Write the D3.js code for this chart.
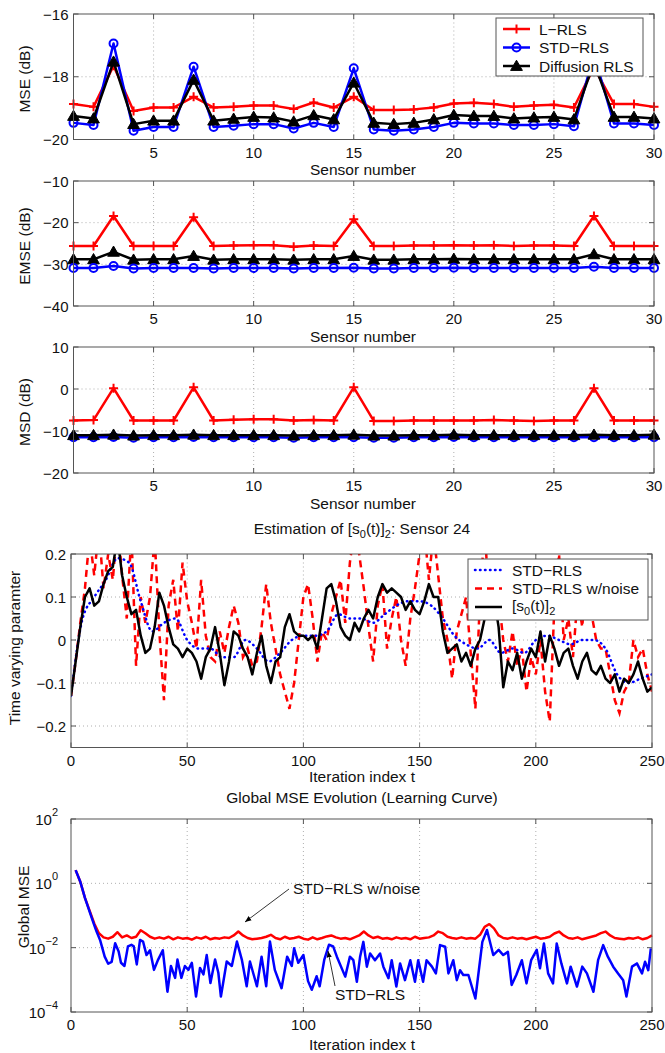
<!DOCTYPE html>
<html>
<head>
<meta charset="utf-8">
<script src="https://cdn.jsdelivr.net/npm/d3@7"></script>
<style>
body{margin:0;background:#fff}
text{font-family:"Liberation Sans",Arial,sans-serif;fill:#111}
</style>
</head>
<body>
<svg id="fig" width="665" height="1053"></svg>
<script>
// ---- data ----
let sensors = [1,2,3,4,5,6,7,8,9,10,11,12,13,14,15,16,17,18,19,20,21,22,23,24,25,26,27,28,29,30];

let mseLRLS = [-18.87,-18.96,-17.65,-19.09,-18.98,-18.98,-18.64,-18.98,-18.96,-18.92,-18.92,-19.03,-18.82,-18.98,-18.64,-19.06,-19.06,-19.04,-18.98,-18.85,-18.83,-18.87,-18.96,-18.92,-18.89,-18.98,-17.7,-18.87,-18.87,-18.96];
let mseSTD  = [-19.47,-19.54,-16.94,-19.72,-19.6,-19.6,-17.68,-19.6,-19.56,-19.51,-19.51,-19.65,-19.47,-19.6,-17.73,-19.68,-19.72,-19.68,-19.6,-19.47,-19.49,-19.49,-19.54,-19.54,-19.51,-19.58,-17.3,-19.49,-19.49,-19.54];
let mseDiff = [-19.25,-19.33,-17.52,-19.51,-19.4,-19.4,-18.1,-19.4,-19.34,-19.28,-19.3,-19.43,-19.23,-19.36,-18.19,-19.47,-19.51,-19.47,-19.36,-19.22,-19.25,-19.25,-19.33,-19.3,-19.28,-19.36,-17.55,-19.28,-19.28,-19.33];

let emseLRLS = [-25.6,-25.6,-18.4,-25.6,-25.6,-25.6,-18.7,-25.6,-25.5,-25.4,-25.4,-25.8,-25.5,-25.6,-19.2,-25.6,-25.6,-25.5,-25.5,-25.4,-25.5,-25.4,-25.6,-25.5,-25.5,-25.6,-18.4,-25.6,-25.6,-25.6];
let emseSTD  = [-30.9,-30.9,-30.4,-31.0,-30.9,-30.9,-30.9,-31.0,-30.9,-30.9,-30.9,-31.0,-30.9,-30.9,-30.8,-31.0,-31.0,-30.9,-30.9,-30.8,-30.9,-30.9,-30.9,-30.9,-30.9,-30.9,-30.6,-30.9,-30.9,-30.9];
let emseDiff = [-28.8,-28.8,-27.0,-28.9,-28.8,-28.8,-28.0,-28.9,-28.8,-28.8,-28.8,-28.9,-28.8,-28.8,-28.0,-28.9,-28.9,-28.8,-28.8,-28.7,-28.8,-28.8,-28.8,-28.8,-28.8,-28.8,-27.6,-28.8,-28.8,-28.8];

let msdLRLS = [-7.5,-7.4,0.2,-7.5,-7.5,-7.5,0.4,-7.5,-7.3,-7.2,-7.2,-7.5,-7.4,-7.5,0.4,-7.6,-7.6,-7.5,-7.5,-7.5,-7.5,-7.4,-7.5,-7.6,-7.5,-7.5,0.2,-7.5,-7.5,-7.5];
let msdSTD  = [-11.5,-11.5,-11.4,-11.6,-11.5,-11.5,-11.4,-11.5,-11.5,-11.5,-11.5,-11.6,-11.5,-11.5,-11.5,-11.6,-11.6,-11.5,-11.5,-11.4,-11.5,-11.5,-11.5,-11.5,-11.5,-11.5,-11.5,-11.5,-11.5,-11.5];
let msdDiff = [-11.0,-11.0,-10.9,-11.1,-11.0,-11.0,-10.9,-11.0,-11.0,-11.0,-11.0,-11.1,-11.0,-11.0,-10.9,-11.1,-11.1,-11.0,-11.0,-10.9,-11.0,-11.0,-11.0,-11.0,-11.0,-11.0,-10.9,-11.0,-11.0,-10.9];

// panel 4: samples every 2 iterations (t = 0,2,...,250)
let trueParam = [-0.13,-0.05,0.03,0.10,0.12,0.08,0.09,0.13,0.16,0.17,0.24,0.15,0.10,0.06,0.07,0.01,-0.03,-0.02,0.03,0.11,0.08,0.03,-0.01,-0.02,-0.04,-0.02,-0.03,-0.05,-0.09,-0.04,-0.02,0.03,-0.03,-0.105,-0.05,0.02,0.01,-0.02,-0.04,-0.08,-0.03,0.01,-0.06,-0.10,-0.05,-0.04,0.03,0.06,0.02,0.01,0.01,0.0,0.01,-0.02,0.05,0.12,0.13,0.09,0.03,0.01,0.0,0.04,0.02,0.05,0.07,0.05,0.10,0.13,0.11,0.12,0.11,0.10,0.07,0.09,0.07,0.06,0.09,0.13,0.10,0.10,0.02,-0.03,-0.02,-0.01,-0.05,-0.03,-0.06,-0.02,0.0,0.05,0.12,0.10,0.03,-0.11,-0.05,-0.07,-0.03,-0.09,-0.05,-0.02,-0.04,0.02,-0.05,0.01,-0.02,-0.06,-0.03,-0.02,-0.06,-0.09,-0.05,-0.03,-0.07,-0.08,-0.06,-0.09,-0.10,-0.08,-0.12,-0.09,-0.10,-0.08,-0.05,-0.09,-0.12,-0.11];
let noisyEst = [-0.13,-0.05,0.04,0.12,0.24,0.15,0.26,0.12,0.20,0.14,0.27,0.15,0.05,0.25,-0.06,0.10,0.04,0.10,0.24,0.02,-0.14,0.08,0.14,0.02,0.18,0.09,0.04,-0.02,0.14,0.01,-0.04,-0.05,0.02,-0.03,0.03,0.08,0.04,-0.04,-0.02,-0.06,-0.05,0.03,0.13,0.04,-0.02,-0.08,-0.12,-0.16,-0.10,0.0,0.10,0.13,0.05,-0.05,0.02,0.0,0.06,0.10,0.14,0.04,0.18,0.26,0.20,0.12,0.03,-0.05,0.08,0.13,-0.02,0.05,0.10,0.0,-0.06,0.05,0.12,0.20,0.26,0.14,0.25,0.15,0.05,0.0,-0.09,0.02,0.06,0.10,-0.03,-0.16,0.10,0.26,0.08,0.12,0.10,0.0,-0.05,0.02,-0.06,-0.02,-0.12,-0.04,-0.08,0.0,-0.12,-0.19,0.08,0.20,0.0,0.05,-0.04,0.10,0.03,0.18,0.06,0.0,-0.02,-0.02,-0.08,-0.14,-0.17,-0.12,-0.10,0.0,-0.04,-0.02,-0.08,-0.12];
// STD-RLS estimate every 5 iterations (t = 0,5,...,250)
let stdEst = [-0.13,0.05,0.10,0.14,0.19,0.18,0.09,0.02,0.04,0.05,0.0,-0.02,-0.02,-0.04,-0.04,0.0,-0.02,-0.05,-0.03,0.0,0.01,0.01,0.02,0.06,0.05,0.05,0.04,0.06,0.08,0.09,0.09,0.08,0.05,0.01,-0.01,-0.02,0.0,-0.03,-0.02,-0.03,0.0,0.01,0.0,-0.01,0.0,0.0,-0.02,-0.08,-0.10,-0.09,-0.08];

// panel 5: [iteration, log10(global MSE)]
let mseNoise = [[2,0.41],[4,0.05],[6,-0.45],[8,-0.85],[10,-1.25],[12,-1.55],[14,-1.68],[16,-1.72],[18,-1.66],[20,-1.52],[22,-1.68],[24,-1.62],[26,-1.70],[28,-1.66],[30,-1.46],[32,-1.55],[34,-1.66],[36,-1.72],[38,-1.68],[40,-1.72],[42,-1.66],[44,-1.74],[46,-1.68],[48,-1.72],[50,-1.70],[52,-1.75],[54,-1.68],[56,-1.72],[58,-1.66],[60,-1.74],[62,-1.70],[64,-1.72],[66,-1.68],[68,-1.70],[70,-1.62],[72,-1.50],[74,-1.62],[76,-1.70],[78,-1.74],[80,-1.72],[82,-1.70],[84,-1.66],[86,-1.60],[88,-1.70],[90,-1.74],[92,-1.66],[94,-1.72],[96,-1.70],[98,-1.66],[100,-1.72],[102,-1.75],[104,-1.68],[106,-1.74],[108,-1.70],[110,-1.65],[112,-1.62],[114,-1.68],[116,-1.72],[118,-1.70],[120,-1.74],[122,-1.68],[124,-1.62],[126,-1.50],[128,-1.62],[130,-1.70],[132,-1.66],[134,-1.72],[136,-1.70],[138,-1.74],[140,-1.68],[142,-1.72],[144,-1.70],[146,-1.74],[148,-1.66],[150,-1.72],[152,-1.70],[154,-1.68],[156,-1.62],[158,-1.50],[160,-1.55],[162,-1.66],[164,-1.70],[166,-1.72],[168,-1.68],[170,-1.72],[172,-1.70],[174,-1.72],[176,-1.60],[178,-1.35],[180,-1.27],[182,-1.40],[184,-1.62],[186,-1.70],[188,-1.72],[190,-1.68],[192,-1.72],[194,-1.70],[196,-1.74],[198,-1.70],[200,-1.66],[202,-1.72],[204,-1.70],[206,-1.66],[208,-1.56],[210,-1.50],[212,-1.62],[214,-1.70],[216,-1.72],[218,-1.68],[220,-1.74],[222,-1.70],[224,-1.66],[226,-1.62],[228,-1.55],[230,-1.50],[232,-1.62],[234,-1.70],[236,-1.72],[238,-1.74],[240,-1.70],[242,-1.72],[244,-1.68],[246,-1.74],[248,-1.70],[250,-1.62]];
let mseClean = [[2,0.41],[4,0.05],[6,-0.45],[8,-0.88],[10,-1.3],[11,-1.5],[12.5,-1.76],[14.5,-2.28],[16,-2.5],[17.5,-2.44],[19,-1.86],[20.5,-2.12],[21.5,-2.47],[23,-2.57],[24.5,-1.96],[26,-1.91],[27,-1.96],[28.3,-2.52],[29.7,-1.76],[31,-1.81],[32.5,-2.23],[34,-2.08],[35.7,-2.69],[37.5,-2.37],[39.5,-2.08],[41.5,-3.37],[43,-2.57],[44.8,-2.94],[45.8,-2.37],[47.5,-2.94],[49,-2.57],[50.5,-2.69],[52,-2.47],[53.8,-3.52],[55.5,-2.63],[57,-2.83],[58.4,-2.23],[60,-3.1],[62,-2.37],[63.4,-2.78],[64.5,-3.52],[67,-2.43],[69.2,-2.57],[71.4,-1.81],[73.5,-2.37],[75.6,-3.2],[77,-2.43],[80,-3.2],[82,-2.28],[84,-3.2],[85.6,-1.81],[87.7,-2.69],[90.6,-3.26],[93,-2.28],[95,-2.57],[96,-2.02],[97.8,-2.47],[100,-2.23],[102,-3.04],[103.6,-3.31],[105.7,-2.89],[107,-3.2],[109,-2.37],[111,-1.91],[112.8,-1.96],[114.4,-2.28],[118,-2.9],[120,-2.28],[121.5,-2.39],[123,-3.06],[124.4,-2.28],[125.8,-1.82],[127.3,-2.59],[128.7,-2.18],[130.8,-2.39],[133,-2.18],[134.4,-2.59],[136.6,-2.95],[138,-2.39],[140,-3.21],[141.6,-2.49],[143.7,-3.01],[146,-2.39],[148,-3.06],[149.4,-2.39],[151.5,-3.06],[153,-2.39],[155.3,-2.59],[157,-2.8],[158.8,-1.92],[161,-1.97],[162.4,-2.8],[164.5,-2.39],[166,-3.01],[167.4,-2.7],[168.8,-2.85],[171,-2.85],[174,-3.58],[177,-1.82],[179,-1.45],[181.7,-2.23],[184,-2.07],[186,-2.23],[188,-2.13],[189.6,-3.16],[191.6,-2.85],[194,-2.39],[196,-3.11],[198,-2.39],[200.4,-2.07],[201.8,-2.64],[203.5,-1.87],[205.3,-2.8],[207.4,-3.11],[209,-1.87],[211,-2.49],[213.4,-3.11],[215,-2.59],[217.7,-3.21],[220,-2.59],[222,-2.8],[224.8,-3.37],[226.8,-2.39],[229,-1.92],[231,-2.28],[233.3,-2.59],[235.4,-2.8],[237.6,-3.01],[239,-3.52],[241.4,-2.59],[243.5,-2.49],[245.7,-2.8],[247,-2.44],[248.4,-2.7],[249.5,-2.02]];

let sensorTicks = [5,10,15,20,25,30];
let iterTicks = [0,50,100,150,200,250];

// ---- drawing ----
let svg = d3.select("#fig");
let RED = "#ff0000", BLUE = "#0000ff", BLACK = "#000000";
let DOTS = "0.5,4.5";
let FS = "15.5px", TFS = "15px";

function fmtNum(d){
    return String(d).replace("-", "\u2212");
}

function drawFrame(g, x, y, xticks, yticks, yfmt){
    let [x0, x1] = x.range();
    let [y0, y1] = y.range(); // y0 bottom, y1 top
    // grid
    g.append("g").selectAll("line").data(xticks.filter(t => x(t) > x0 + 1 && x(t) < x1 - 1)).enter().append("line")
        .attr("x1", d => x(d)).attr("x2", d => x(d)).attr("y1", y0).attr("y2", y1)
        .attr("stroke", "#9a9a9a").attr("stroke-width", 0.8).attr("stroke-dasharray", "1,3");
    g.append("g").selectAll("line").data(yticks.filter(t => y(t) < y0 - 1 && y(t) > y1 + 1)).enter().append("line")
        .attr("y1", d => y(d)).attr("y2", d => y(d)).attr("x1", x0).attr("x2", x1)
        .attr("stroke", "#9a9a9a").attr("stroke-width", 0.8).attr("stroke-dasharray", "1,3");
    // inward ticks on all sides
    let tk = g.append("g").attr("stroke", "#555").attr("stroke-width", 1);
    xticks.forEach(t => {
        tk.append("line").attr("x1", x(t)).attr("x2", x(t)).attr("y1", y0).attr("y2", y0 - 5);
        tk.append("line").attr("x1", x(t)).attr("x2", x(t)).attr("y1", y1).attr("y2", y1 + 5);
    });
    yticks.forEach(t => {
        tk.append("line").attr("y1", y(t)).attr("y2", y(t)).attr("x1", x0).attr("x2", x0 + 5);
        tk.append("line").attr("y1", y(t)).attr("y2", y(t)).attr("x1", x1).attr("x2", x1 - 5);
    });
    // labels
    g.append("g").selectAll("text").data(xticks).enter().append("text")
        .attr("x", d => x(d)).attr("y", y0 + 18).attr("text-anchor", "middle")
        .style("font-size", TFS).text(d => fmtNum(d));
    if (yfmt){
        yticks.forEach(t => yfmt(g, t, x0, y(t)));
    } else {
        g.append("g").selectAll("text").data(yticks).enter().append("text")
            .attr("x", x0 - 5).attr("y", d => y(d) + 5.5).attr("text-anchor", "end")
            .style("font-size", TFS).text(d => fmtNum(d));
    }
}

function drawBox(g, x, y){
    let [x0, x1] = x.range();
    let [y0, y1] = y.range();
    g.append("rect").attr("x", x0).attr("y", y1).attr("width", x1 - x0).attr("height", y0 - y1)
        .attr("fill", "none").attr("stroke", "#555").attr("stroke-width", 1);
}

function ylabel(text, bx, cy){
    svg.append("text").attr("transform", `translate(${bx},${cy}) rotate(-90)`)
        .attr("text-anchor", "middle").style("font-size", FS).text(text);
}
function xlabel(text, cx, by){
    svg.append("text").attr("x", cx).attr("y", by).attr("text-anchor", "middle")
        .style("font-size", FS).text(text);
}

function marker(g, kind, cx, cy, color){
    if (kind === "plus"){
        g.append("path").attr("d", `M${cx-4.5},${cy}H${cx+4.5}M${cx},${cy-4.5}V${cy+4.5}`)
            .attr("stroke", color).attr("stroke-width", 2);
    } else if (kind === "circle"){
        g.append("circle").attr("cx", cx).attr("cy", cy).attr("r", 4)
            .attr("fill", "none").attr("stroke", color).attr("stroke-width", 2);
    } else {
        g.append("path").attr("d", d3.symbol(d3.symbolTriangle, 60)())
            .attr("transform", `translate(${cx},${cy + 1})`).attr("fill", color).attr("stroke", color);
    }
}

function sensorPanel(top, bottom, domain, yticks, series, label, labelY, legend){
    let x = d3.scaleLinear().domain([1, 30]).range([73.5, 654]);
    let y = d3.scaleLinear().domain(domain).range([bottom, top]);
    let g = svg.append("g");
    drawFrame(g, x, y, sensorTicks, yticks);
    series.forEach(s => {
        let line = d3.line().x((d, i) => x(sensors[i])).y(d => y(d));
        g.append("path").datum(s.values).attr("d", line).attr("fill", "none")
            .attr("stroke", s.color).attr("stroke-width", 2.5).attr("stroke-linejoin", "round");
        s.values.forEach((v, i) => marker(g, s.marker, x(sensors[i]), y(v), s.color));
    });
    drawBox(g, x, y);
    ylabel(label, 30, labelY);
    xlabel("Sensor number", 363, bottom + 35.5);
    if (legend){
        let lg = svg.append("g");
        lg.append("rect").attr("x", 496).attr("y", 18).attr("width", 147).attr("height", 58)
            .attr("fill", "#fff").attr("stroke", "#555").attr("stroke-width", 1);
        series.forEach((s, i) => {
            let ly = 29 + i * 18.5;
            lg.append("line").attr("x1", 503).attr("x2", 530).attr("y1", ly).attr("y2", ly)
                .attr("stroke", s.color).attr("stroke-width", 2.5);
            marker(lg, s.marker, 516.5, ly, s.color);
            lg.append("text").attr("x", 539).attr("y", ly + 5.5).style("font-size", FS).text(s.name);
        });
    }
}

sensorPanel(14, 139.5, [-20, -16], [-20, -18, -16], [
    {name: "L\u2212RLS", values: mseLRLS, color: RED, marker: "plus"},
    {name: "STD\u2212RLS", values: mseSTD, color: BLUE, marker: "circle"},
    {name: "Diffusion RLS", values: mseDiff, color: BLACK, marker: "tri"}
], "MSE (dB)", 79, true);

sensorPanel(181, 306, [-40, -10], [-40, -30, -20, -10], [
    {name: "L\u2212RLS", values: emseLRLS, color: RED, marker: "plus"},
    {name: "Diffusion RLS", values: emseDiff, color: BLACK, marker: "tri"},
    {name: "STD\u2212RLS", values: emseSTD, color: BLUE, marker: "circle"}
], "EMSE (dB)", 246, false);

sensorPanel(347, 473, [-20, 10], [-20, -10, 0, 10], [
    {name: "L\u2212RLS", values: msdLRLS, color: RED, marker: "plus"},
    {name: "STD\u2212RLS", values: msdSTD, color: BLUE, marker: "circle"},
    {name: "Diffusion RLS", values: msdDiff, color: BLACK, marker: "tri"}
], "MSD (dB)", 412, false);

// ---- panel 4: time varying parameter ----
// parts: {t:"text"} normal, {sub:"x"} subscript
function subText(sel, parts){
    let low = false;
    parts.forEach(p => {
        let ts = sel.append("tspan");
        if (p.sub){
            ts.attr("dy", low ? 0 : 4).style("font-size", "11px").text(p.sub);
            low = true;
        } else {
            ts.attr("dy", low ? -4 : 0).text(p.t);
            low = false;
        }
    });
}

function paramPanel(){
    let top = 554, bottom = 747.5;
    let x = d3.scaleLinear().domain([0, 250]).range([71, 652]);
    let y = d3.scaleLinear().domain([-0.25, 0.2]).range([bottom, top]);
    let g = svg.append("g");
    drawFrame(g, x, y, iterTicks, [-0.2, -0.1, 0, 0.1, 0.2]);
    svg.append("clipPath").attr("id", "clip4").append("rect")
        .attr("x", 71).attr("y", top).attr("width", 581).attr("height", bottom - top);
    let pg = g.append("g").attr("clip-path", "url(#clip4)");
    let line2 = d3.line().x((d, i) => x(i * 2)).y(d => y(d));
    let line5 = d3.line().x((d, i) => x(i * 5)).y(d => y(d)).curve(d3.curveMonotoneX);
    pg.append("path").datum(noisyEst).attr("d", line2).attr("fill", "none").attr("stroke", RED)
        .attr("stroke-width", 2.5).attr("stroke-dasharray", "7,5");
    pg.append("path").datum(stdEst).attr("d", line5).attr("fill", "none").attr("stroke", BLUE)
        .attr("stroke-width", 2.5).attr("stroke-dasharray", DOTS).attr("stroke-linecap", "round");
    pg.append("path").datum(trueParam).attr("d", line2).attr("fill", "none").attr("stroke", BLACK)
        .attr("stroke-width", 2.5).attr("stroke-linejoin", "round");
    drawBox(g, x, y);

    // legend
    let lg = svg.append("g");
    lg.append("rect").attr("x", 468).attr("y", 559).attr("width", 180).attr("height", 61)
        .attr("fill", "#fff").attr("stroke", "#555");
    let items = [
        {c: BLUE, dash: DOTS},
        {c: RED, dash: "7,5"},
        {c: BLACK, dash: null}
    ];
    items.forEach((it, i) => {
        let ly = 570 + i * 18.5;
        let l = lg.append("line").attr("x1", 475).attr("x2", 502).attr("y1", ly).attr("y2", ly)
            .attr("stroke", it.c).attr("stroke-width", 2.5).attr("stroke-linecap", it.dash === DOTS ? "round" : "butt");
        if (it.dash) l.attr("stroke-dasharray", it.dash);
    });
    lg.append("text").attr("x", 512).attr("y", 575.5).style("font-size", FS).text("STD\u2212RLS");
    lg.append("text").attr("x", 512).attr("y", 594).style("font-size", FS).text("STD\u2212RLS w/noise");
    subText(lg.append("text").attr("x", 512).attr("y", 611).style("font-size", FS),
        [{t: "[s"}, {sub: "0"}, {t: "(t)]"}, {sub: "2"}]);

    subText(svg.append("text").attr("x", 362).attr("y", 534).attr("text-anchor", "middle").style("font-size", FS),
        [{t: "Estimation of [s"}, {sub: "0"}, {t: "(t)]"}, {sub: "2"}, {t: ": Sensor 24"}]);
    ylabel("Time varying paramter", 20, 648);
    xlabel("Iteration index t", 362, 782);
}
paramPanel();

// ---- panel 5: learning curve ----
function msePanel(){
    let top = 819, bottom = 1012;
    let x = d3.scaleLinear().domain([0, 250]).range([71, 652]);
    let y = d3.scaleLog().domain([1e-4, 1e2]).range([bottom, top]);
    let g = svg.append("g");
    drawFrame(g, x, y, iterTicks, [1e-4, 1e-2, 1e0, 1e2], (gg, t, x0, py) => {
        let tx = gg.append("text").attr("x", x0 - 13).attr("y", py + 6).attr("text-anchor", "end").style("font-size", TFS);
        tx.append("tspan").text("10");
        tx.append("tspan").attr("dy", -9).style("font-size", "11px").text(fmtNum(Math.round(Math.log10(t))));
    });
    let line = d3.line().x(d => x(d[0])).y(d => y(Math.pow(10, d[1])));
    g.append("path").datum(mseNoise).attr("d", line).attr("fill", "none").attr("stroke", RED)
        .attr("stroke-width", 2.5).attr("stroke-linejoin", "round");
    g.append("path").datum(mseClean).attr("d", line).attr("fill", "none").attr("stroke", BLUE)
        .attr("stroke-width", 2.5).attr("stroke-linejoin", "round");
    drawBox(g, x, y);

    // annotations
    svg.append("defs").append("marker").attr("id", "ah").attr("viewBox", "0 0 10 10")
        .attr("refX", 10).attr("refY", 5).attr("markerWidth", 8).attr("markerHeight", 8)
        .attr("orient", "auto").append("path").attr("d", "M0,1L10,5L0,9z").attr("fill", "#000");
    svg.append("line").attr("x1", 289).attr("y1", 889).attr("x2", 245).attr("y2", 922)
        .attr("stroke", "#000").attr("stroke-width", 0.8).attr("marker-end", "url(#ah)");
    svg.append("text").attr("x", 293).attr("y", 894).style("font-size", FS).text("STD\u2212RLS w/noise");
    svg.append("line").attr("x1", 335).attr("y1", 986).attr("x2", 328).attr("y2", 951)
        .attr("stroke", "#000").attr("stroke-width", 0.8).attr("marker-end", "url(#ah)");
    svg.append("text").attr("x", 335).attr("y", 1000).style("font-size", FS).text("STD\u2212RLS");

    svg.append("text").attr("x", 362).attr("y", 803).attr("text-anchor", "middle").style("font-size", FS)
        .text("Global MSE Evolution (Learning Curve)");
    ylabel("Global MSE", 29, 907);
    xlabel("Iteration index t", 362, 1050);
}
msePanel();
</script>
</body>
</html>
